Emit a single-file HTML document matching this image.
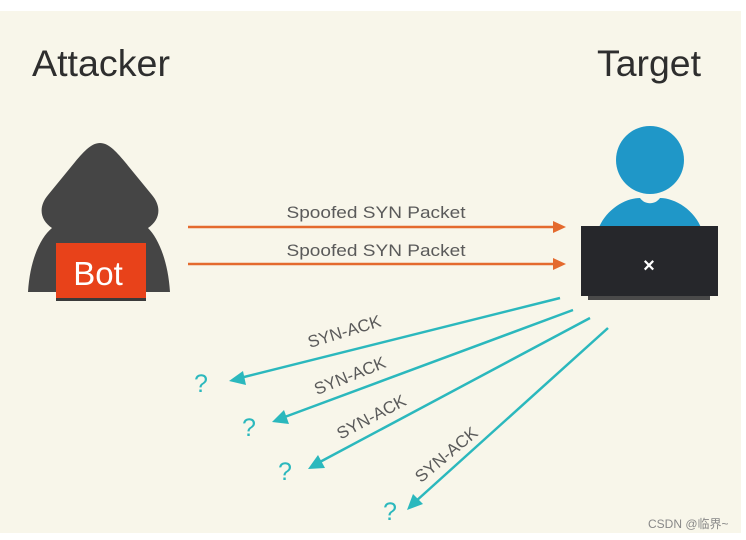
<!DOCTYPE html>
<html><head><meta charset="utf-8"><style>
html,body{margin:0;padding:0;background:#fff}
svg{display:block}
</style></head><body>
<svg width="746" height="540" viewBox="0 0 746 540" xmlns="http://www.w3.org/2000/svg" font-family="Liberation Sans, DejaVu Sans, sans-serif">
<rect x="0" y="11" width="741" height="522" fill="#f8f6ea"/>
<text x="32" y="76" font-size="37" fill="#2e2e2e" textLength="138" lengthAdjust="spacingAndGlyphs">Attacker</text>
<text x="597" y="76" font-size="37" fill="#2e2e2e" textLength="104" lengthAdjust="spacingAndGlyphs">Target</text>
<!-- hooded figure -->
<path d="M100 143 C92 143 85 150 75 162 L48 195 C38 207 40 220 52 228 C40 238 30 260 28 292 L170 292 C168 260 158 238 148 228 C160 220 162 207 152 195 L125 162 C115 150 108 143 100 143 Z" fill="#454545"/>
<rect x="56" y="243" width="90" height="55" fill="#e8421a"/>
<rect x="56" y="298" width="90" height="3" fill="#3a3a3a"/>
<text x="98" y="285" font-size="33" fill="#fff" text-anchor="middle">Bot</text>
<!-- target -->
<circle cx="650" cy="160" r="34" fill="#1f97c8"/>
<path d="M598 230 C605 210 625 198 640 198 C645 205 655 205 660 198 C675 198 695 210 702 230 Z" fill="#1f97c8"/>
<rect x="581" y="226" width="137" height="70" fill="#26272b"/>
<rect x="588" y="296" width="122" height="4" fill="#4a4a4a"/>
<text x="649" y="272" font-size="20" font-weight="bold" fill="#fff" text-anchor="middle">×</text>
<!-- orange arrows -->
<g stroke="#e46a2e" stroke-width="2.5">
<line x1="188" y1="227" x2="556" y2="227"/>
<line x1="188" y1="264" x2="556" y2="264"/>
</g>
<polygon points="566,227 553,221 553,233" fill="#e46a2e"/>
<polygon points="566,264 553,258 553,270" fill="#e46a2e"/>
<text x="376" y="218" font-size="17" fill="#5a5a5a" text-anchor="middle" textLength="179" lengthAdjust="spacingAndGlyphs">Spoofed SYN Packet</text>
<text x="376" y="256" font-size="17" fill="#5a5a5a" text-anchor="middle" textLength="179" lengthAdjust="spacingAndGlyphs">Spoofed SYN Packet</text>
<!-- teal arrows -->
<g stroke="#2bb8bd" stroke-width="2.5">
<line x1="560" y1="298" x2="240" y2="378"/>
<line x1="573" y1="310" x2="282" y2="418"/>
<line x1="590" y1="318" x2="318" y2="463"/>
<line x1="608" y1="328" x2="415" y2="502"/>
</g>
<g fill="#2bb8bd">
<polygon points="229,381 243,371 246,385"/>
<polygon points="272,422 284,410 289,424"/>
<polygon points="308,469 318,455 325,468"/>
<polygon points="407,510 413,494 423,504"/>
</g>
<g font-size="25" fill="#2bb8bd" text-anchor="middle">
<text x="201" y="392">?</text>
<text x="249" y="436">?</text>
<text x="285" y="480">?</text>
<text x="390" y="520">?</text>
</g>
<g font-size="17" fill="#5a5a5a" text-anchor="middle">
<text transform="translate(346,337) rotate(-17)">SYN-ACK</text>
<text transform="translate(352,381) rotate(-22)">SYN-ACK</text>
<text transform="translate(374,422) rotate(-28)">SYN-ACK</text>
<text transform="translate(450,459) rotate(-40)">SYN-ACK</text>
</g>
<text x="648" y="528" font-size="12" fill="#888" font-family="Liberation Sans, Noto Sans CJK SC, sans-serif">CSDN @临界~</text>
</svg>
</body></html>
